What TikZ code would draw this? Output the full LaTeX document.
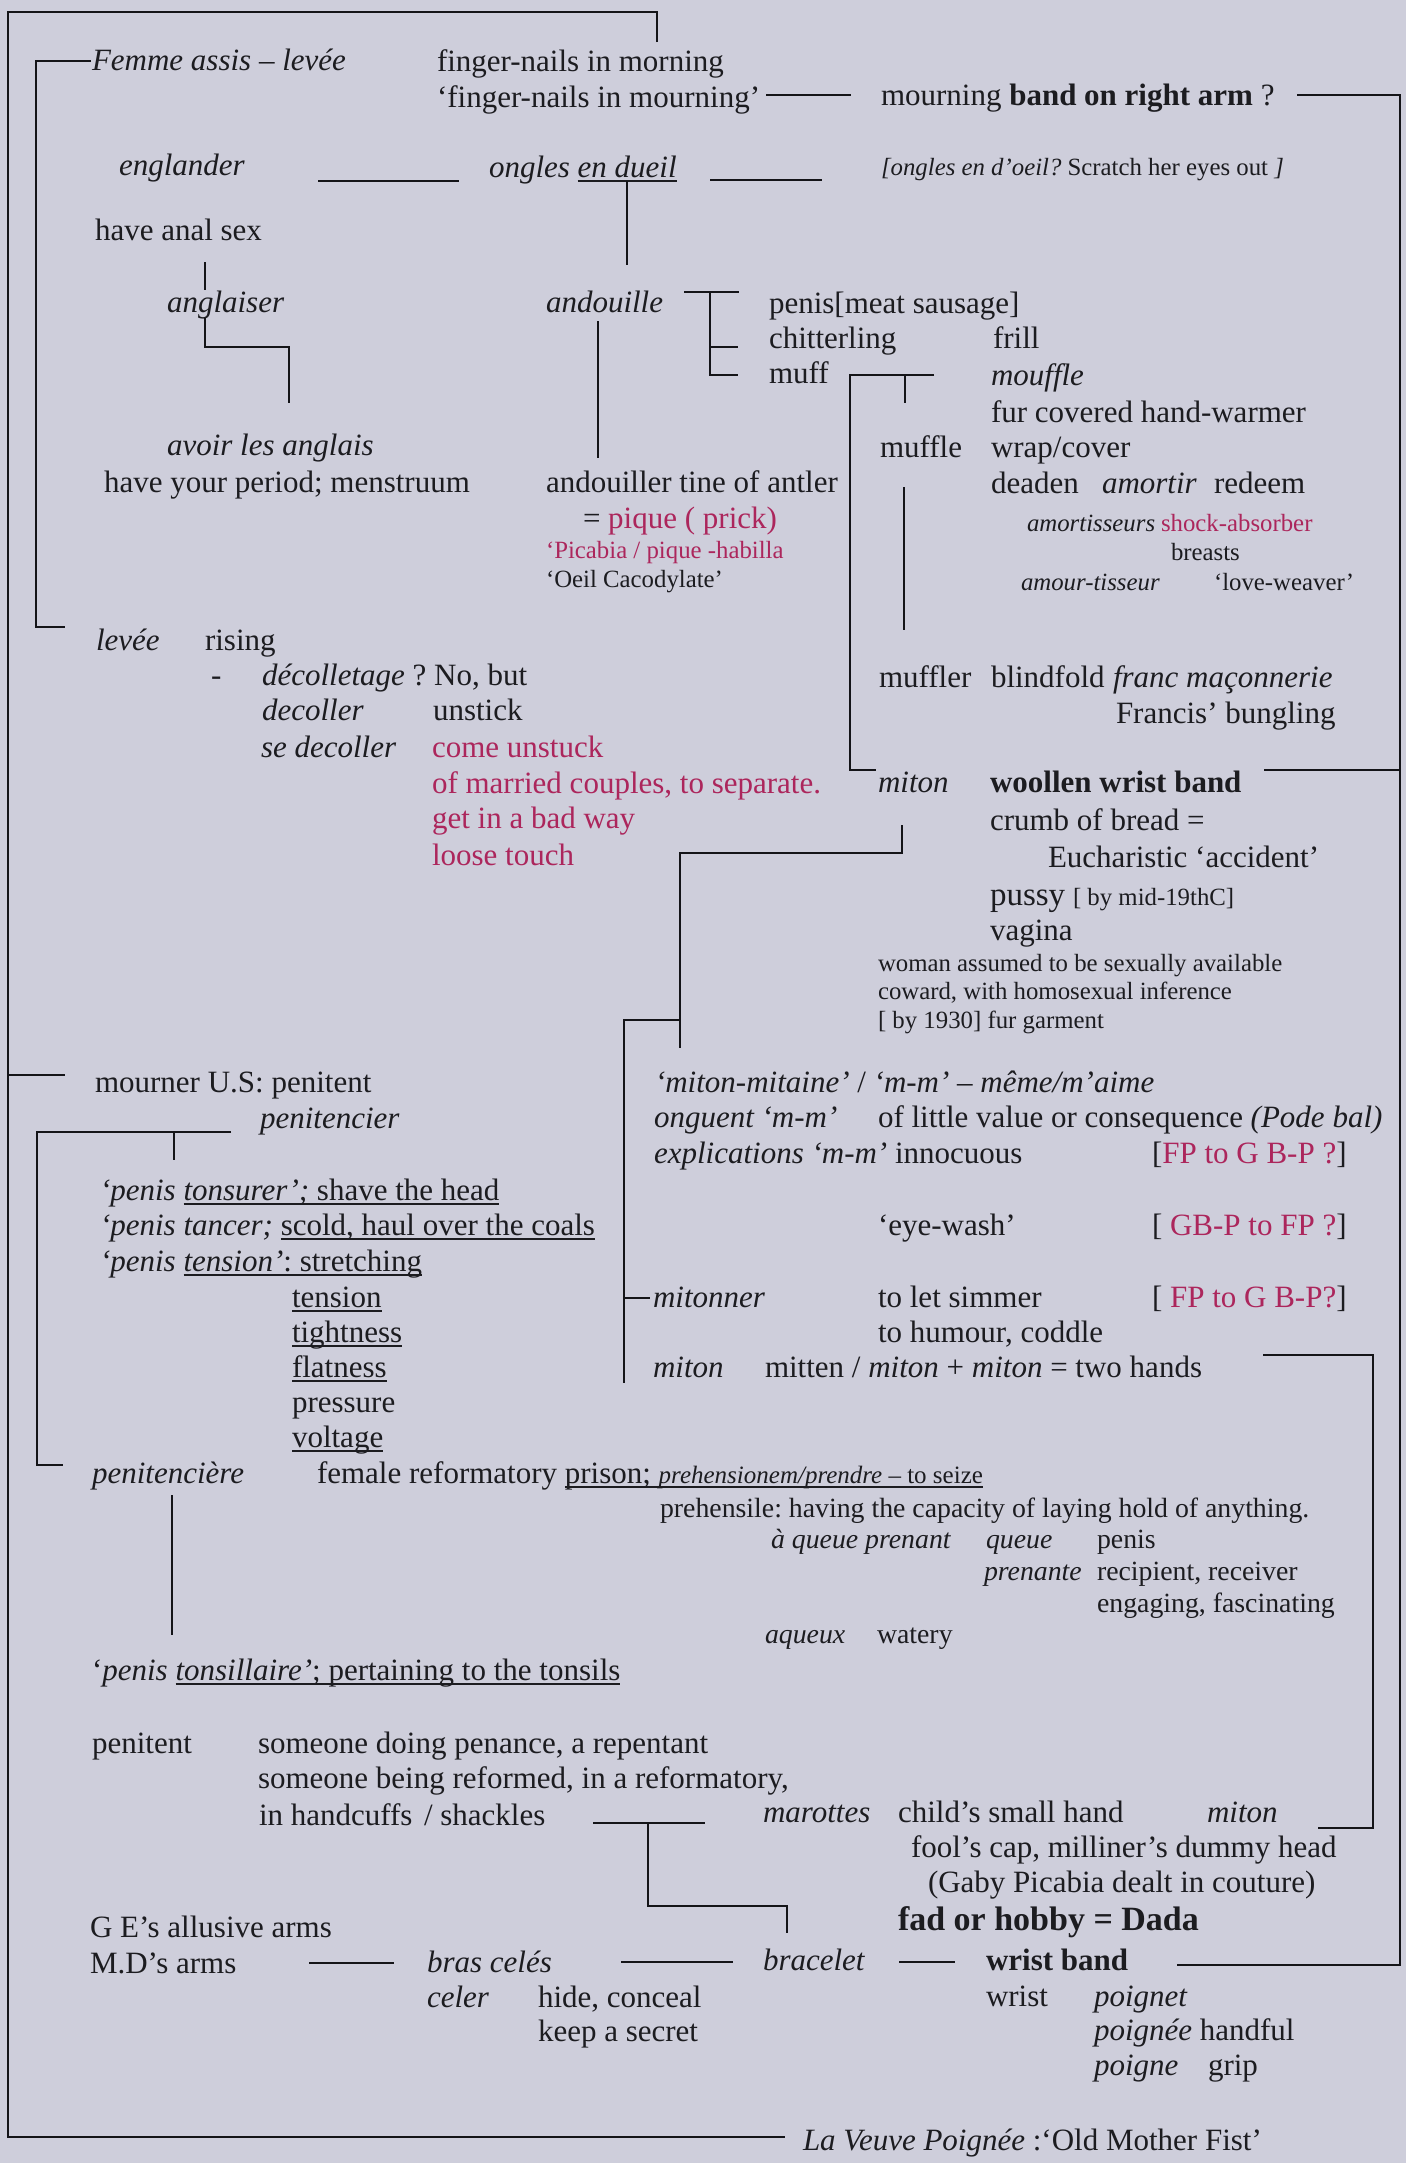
\documentclass[tikz,border=0pt]{standalone}
\usepackage{fontspec}
\setmainfont{Liberation Serif}
\frenchspacing
% underline at a fixed depth below the baseline
\newsavebox{\undlbox}
\newcommand{\undl}[1]{\sbox{\undlbox}{#1}\rlap{\rule[-2.4pt]{\wd\undlbox}{0.7pt}}\usebox{\undlbox}}
\definecolor{paper}{RGB}{206,206,219}
\definecolor{ink}{RGB}{28,28,32}
\definecolor{lineink}{RGB}{20,20,24}
\definecolor{rose}{RGB}{172,38,92}
\tikzset{
  lbl/.style={anchor=base west, inner sep=0pt, outer sep=0pt, text=ink},
  tx/.style={lbl, font=\fontsize{15.5}{18}\selectfont},
  txs/.style={lbl, font=\fontsize{12.4}{14}\selectfont},
  txm/.style={lbl, font=\fontsize{13.9}{16}\selectfont},
  txl/.style={lbl, font=\fontsize{17}{20}\selectfont},
  rosy/.style={text=rose},
  wire/.style={draw=lineink, line width=1.1pt}
}
\begin{document}
\begin{tikzpicture}[x=0.5pt,y=-0.5pt]
\useasboundingbox (0,0) rectangle (1406,2163);
\fill[paper] (0,0) rectangle (1406,2163);

% ---------- text: upper left ----------
\node[tx] (femme) at (92,70) {\textit{Femme assis – levée}};
\node[tx] (fing1) at (437,71) {finger-nails in morning};
\node[tx] (fing2) at (437,107) {‘finger-nails in mourning’};
\node[tx] (mourn) at (881,105) {mourning \textbf{band on right arm} ?};
\node[tx] (englander) at (119,175) {\textit{englander}};
\node[tx] (ongles) at (489,177) {\textit{ongles \undl{en dueil}}};
\node[txs] (scratch) at (881,175) {\textit{[ongles en d’oeil?} Scratch her eyes out \textit{]}};
\node[tx] (anal) at (95,240) {have anal sex};
\node[tx] (anglaiser) at (167,312) {\textit{anglaiser}};
\node[tx] (avoir) at (167,455) {\textit{avoir les anglais}};
\node[tx] (period) at (104,492) {have your period; menstruum};

% ---------- andouille ----------
\node[tx] (andouille) at (546,312) {\textit{andouille}};
\node[tx] (penisA) at (769,313) {penis[meat sausage]};
\node[tx] (chit) at (769,348) {chitterling};
\node[tx] (frill) at (993,348) {frill};
\node[tx] (muff) at (769,383) {muff};
\node[tx] (andouiller) at (546,492) {andouiller tine of antler};
\node[tx] (pique) at (583,528) {= \textcolor{rose}{pique ( prick)}};
\node[txs, rosy] (picabia) at (546,558) {`Picabia / pique -habilla};
\node[txs] (oeil) at (546,587) {‘Oeil Cacodylate’};

% ---------- muff / muffle ----------
\node[tx] (mouffle) at (991,385) {\textit{mouffle}};
\node[tx] (fur) at (991,422) {fur covered hand-warmer};
\node[tx] (muffle) at (880,457) {muffle};
\node[tx] (wrap) at (991,457) {wrap/cover};
\node[tx] (deaden) at (991,493) {deaden};
\node[tx] (amortir) at (1102,493) {\textit{amortir}};
\node[tx] (redeem) at (1214,493) {redeem};
\node[txs] (amortiss) at (1027,531) {\textit{amortisseurs}};
\node[txs, rosy] (shock) at (1161,531) {shock-absorber};
\node[txs] (breasts) at (1171,560) {breasts};
\node[txs] (amourt) at (1021,590) {\textit{amour-tisseur}};
\node[txs] (lovew) at (1214,590) {‘love-weaver’};
\node[tx] (muffler) at (879,687) {muffler};
\node[tx] (blind) at (991,687) {blindfold};
\node[tx] (franc) at (1113,687) {\textit{franc maçonnerie}};
\node[tx] (francis) at (1116,723) {Francis’ bungling};

% ---------- levée ----------
\node[tx] (levee) at (96,650) {\textit{levée}};
\node[tx] (rising) at (205,650) {rising};
\node[tx] (dash) at (211,685) {-};
\node[tx] (decollt) at (262,685) {\textit{décolletage} ? No, but};
\node[tx] (decoller) at (262,720) {\textit{decoller}};
\node[tx] (unstick) at (433,720) {unstick};
\node[tx] (sedec) at (261,757) {\textit{se decoller}};
\node[tx, rosy] (comeun) at (432,757) {come unstuck};
\node[tx, rosy] (married) at (432,793) {of married couples, to separate.};
\node[tx, rosy] (badway) at (432,828) {get in a bad way};
\node[tx, rosy] (loose) at (432,865) {loose touch};

% ---------- miton ----------
\node[tx] (mitonA) at (878,792) {\textit{miton}};
\node[tx] (woollen) at (990,792) {\textbf{woollen wrist band}};
\node[tx] (crumb) at (990,830) {crumb of bread =};
\node[tx] (euch) at (1048,867) {Eucharistic ‘accident’};
\node[lbl, font=\fontsize{16.5}{19}\selectfont] (pussy) at (990,905) {pussy};
\node[txs] (midc) at (1073,905) {[ by mid-19thC]};
\node[tx] (vagina) at (990,940) {vagina};
\node[txs] (woman) at (878,971) {woman assumed to be sexually available};
\node[txs] (coward) at (878,999) {coward, with homosexual inference};
\node[txs] (byyear) at (878,1028) {[ by 1930] fur garment};

% ---------- mourner / penitencier ----------
\node[tx] (mourner) at (95,1092) {mourner U.S: penitent};
\node[tx] (penitencier) at (260,1128) {\textit{penitencier}};
\node[tx] (tonsurer) at (100,1200) {\textit{‘penis \undl{tonsurer’;}}\undl{ shave the head}};
\node[tx] (tancer) at (100,1235) {\textit{‘penis tancer;} \undl{scold, haul over the coals}};
\node[tx] (tensA) at (100,1271) {\textit{‘penis \undl{tension’}}\undl{: stretching}};
\node[tx] (tensB) at (292,1307) {\undl{tension}};
\node[tx] (tight) at (292,1342) {\undl{tightness}};
\node[tx] (flat) at (292,1377) {\undl{flatness}};
\node[tx] (pressure) at (292,1412) {pressure};
\node[tx] (voltage) at (292,1447) {\undl{voltage}};
\node[tx] (peniere) at (92,1483) {\textit{penitencière}};
\node[tx] (female) at (317,1483) {female reformatory \undl{prison;\ {\fontsize{12.5}{14}\selectfont\textit{prehensionem/prendre} – to seize}}};

% ---------- miton-mitaine ----------
\node[tx] (mitaine) at (655,1092) {\textit{‘miton-mitaine’} / \textit{‘m-m’ – même/m’aime}};
\node[tx] (onguent) at (654,1127) {\textit{onguent ‘m-m’}};
\node[tx] (little) at (878,1127) {of little value or consequence \textit{(Pode bal)}};
\node[tx] (explic) at (654,1163) {\textit{explications ‘m-m’} innocuous};
\node[tx] (fpA) at (1152,1163) {[\textcolor{rose}{FP to G B-P ?}]};
\node[tx] (eyewash) at (878,1235) {‘eye-wash’};
\node[tx] (gbp) at (1152,1235) {[ \textcolor{rose}{GB-P to FP ?}]};
\node[tx] (mitonner) at (653,1307) {\textit{mitonner}};
\node[tx] (simmer) at (878,1307) {to let simmer};
\node[tx] (fpB) at (1152,1307) {[ \textcolor{rose}{FP to G B-P?}]};
\node[tx] (humour) at (878,1342) {to humour, coddle};
\node[tx] (mitonB) at (653,1377) {\textit{miton}};
\node[tx] (mitten) at (765,1377) {mitten / \textit{miton} + \textit{miton} = two hands};

% ---------- prehensile ----------
\node[txm] (prehensile) at (660,1517) {prehensile: having the capacity of laying hold of anything.};
\node[txm] (aqueue) at (771,1548) {\textit{à queue prenant}};
\node[txm] (queue) at (986,1548) {\textit{queue}};
\node[txm] (penisB) at (1097,1548) {penis};
\node[txm] (prenante) at (984,1580) {\textit{prenante}};
\node[txm] (recip) at (1097,1580) {recipient, receiver};
\node[txm] (engaging) at (1097,1612) {engaging, fascinating};
\node[txm] (aqueux) at (765,1643) {\textit{aqueux}};
\node[txm] (watery) at (877,1643) {watery};

% ---------- penitent ----------
\node[tx] (tonsil) at (92,1680) {‘\textit{penis \undl{tonsillaire’}}\undl{; pertaining to the tonsils}};
\node[tx] (penitent) at (92,1753) {penitent};
\node[tx] (doing) at (258,1753) {someone doing penance, a repentant};
\node[tx] (being) at (258,1788) {someone being reformed, in a reformatory,};
\node[tx] (handcuffs) at (259,1825) {in handcuffs};
\node[tx] (shackles) at (424,1825) {/ shackles};

% ---------- marottes / bracelet ----------
\node[tx] (marottes) at (763,1822) {\textit{marottes}};
\node[tx] (childs) at (898,1822) {child’s small hand};
\node[tx] (mitonC) at (1207,1822) {\textit{miton}};
\node[tx] (foolscap) at (911,1857) {fool’s cap, milliner’s dummy head};
\node[tx] (gaby) at (928,1892) {(Gaby Picabia dealt in couture)};
\node[txl] (fad) at (898,1930) {\textbf{fad or hobby = Dada}};
\node[tx] (ge) at (90,1937) {G E’s allusive arms};
\node[tx] (md) at (90,1973) {M.D’s arms};
\node[tx] (bras) at (427,1972) {\textit{bras celés}};
\node[tx] (bracelet) at (763,1970) {\textit{bracelet}};
\node[tx] (wristband) at (986,1970) {\textbf{wrist band}};
\node[tx] (celer) at (427,2007) {\textit{celer}};
\node[tx] (hide) at (538,2007) {hide, conceal};
\node[tx] (keep) at (538,2041) {keep a secret};
\node[tx] (wrist) at (986,2006) {wrist};
\node[tx] (poignet) at (1094,2006) {\textit{poignet}};
\node[tx] (poignee) at (1094,2040) {\textit{poignée} handful};
\node[tx] (poigne) at (1094,2075) {\textit{poigne}};
\node[tx] (grip) at (1208,2075) {grip};
\node[tx] (veuve) at (803,2150) {\textit{La Veuve Poignée} :‘Old Mother Fist’};

% ---------- connector corners and ends ----------
\coordinate (fT) at (657,42);   \coordinate (fTR) at (657,12);
\coordinate (fTL) at (8,12);    \coordinate (fBL) at (8,2137);
\coordinate (fB) at (785,2137);
\coordinate (fmA) at (91,61);   \coordinate (fmB) at (36,61);
\coordinate (fmC) at (36,627);  \coordinate (fmD) at (65,627);
\coordinate (mrA) at (8,1075);  \coordinate (mrB) at (65,1075);
\coordinate (fnA) at (766,95);  \coordinate (fnB) at (851,95);
\coordinate (rtA) at (1297,95); \coordinate (rtB) at (1400,95);
\coordinate (rtC) at (1400,1965); \coordinate (rtD) at (1177,1965);
\coordinate (enA) at (318,181); \coordinate (enB) at (459,181);
\coordinate (onA) at (710,180); \coordinate (onB) at (822,180);
\coordinate (duA) at (627,181); \coordinate (duB) at (627,265);
\coordinate (agA) at (205,262); \coordinate (agB) at (205,290);
\coordinate (agC) at (205,318); \coordinate (agD) at (205,347);
\coordinate (agE) at (289,347); \coordinate (agF) at (289,403);
\coordinate (adA) at (598,321); \coordinate (adB) at (598,458);
\coordinate (abA) at (684,292); \coordinate (abB) at (739,292);
\coordinate (abC) at (710,292); \coordinate (abD) at (710,375);
\coordinate (abE) at (738,375); \coordinate (abF) at (710,347);
\coordinate (abG) at (738,347);
\coordinate (mfA) at (934,375); \coordinate (mfB) at (850,375);
\coordinate (mfC) at (850,770); \coordinate (mfD) at (876,770);
\coordinate (mfE) at (905,375); \coordinate (mfF) at (905,403);
\coordinate (mlA) at (904,487); \coordinate (mlB) at (904,630);
\coordinate (wlA) at (1264,770); \coordinate (wlB) at (1400,770);
\coordinate (miA) at (902,825); \coordinate (miB) at (902,853);
\coordinate (miC) at (680,853); \coordinate (miD) at (680,1048);
\coordinate (miE) at (680,1020); \coordinate (miF) at (624,1020);
\coordinate (miG) at (624,1383); \coordinate (miH) at (624,1298);
\coordinate (miI) at (650,1298);
\coordinate (pcA) at (231,1132); \coordinate (pcB) at (37,1132);
\coordinate (pcC) at (37,1465); \coordinate (pcD) at (63,1465);
\coordinate (pcE) at (174,1132); \coordinate (pcF) at (174,1160);
\coordinate (peA) at (172,1495); \coordinate (peB) at (172,1635);
\coordinate (mhA) at (1263,1355); \coordinate (mhB) at (1373,1355);
\coordinate (mhC) at (1373,1828); \coordinate (mhD) at (1318,1828);
\coordinate (hcA) at (593,1823); \coordinate (hcB) at (705,1823);
\coordinate (hcC) at (648,1823); \coordinate (hcD) at (648,1906);
\coordinate (hcE) at (787,1906); \coordinate (hcF) at (787,1933);
\coordinate (mdA) at (309,1963); \coordinate (mdB) at (394,1963);
\coordinate (bcA) at (621,1962); \coordinate (bcB) at (733,1962);
\coordinate (blA) at (899,1962); \coordinate (blB) at (955,1962);

% ---------- connectors ----------
\draw[wire] (fT) -- (fTR) -- (fTL) -- (fBL) -- (fB);
\draw[wire] (fmA) -- (fmB) -- (fmC) -- (fmD);
\draw[wire] (mrA) -- (mrB);
\draw[wire] (fnA) -- (fnB);
\draw[wire] (rtA) -- (rtB) -- (rtC) -- (rtD);
\draw[wire] (enA) -- (enB);
\draw[wire] (onA) -- (onB);
\draw[wire] (duA) -- (duB);
\draw[wire] (agA) -- (agB);
\draw[wire] (agC) -- (agD) -- (agE) -- (agF);
\draw[wire] (adA) -- (adB);
\draw[wire] (abA) -- (abB);
\draw[wire] (abC) -- (abD) -- (abE);
\draw[wire] (abF) -- (abG);
\draw[wire] (mfA) -- (mfB) -- (mfC) -- (mfD);
\draw[wire] (mfE) -- (mfF);
\draw[wire] (mlA) -- (mlB);
\draw[wire] (wlA) -- (wlB);
\draw[wire] (miA) -- (miB) -- (miC) -- (miD);
\draw[wire] (miE) -- (miF) -- (miG);
\draw[wire] (miH) -- (miI);
\draw[wire] (pcA) -- (pcB) -- (pcC) -- (pcD);
\draw[wire] (pcE) -- (pcF);
\draw[wire] (peA) -- (peB);
\draw[wire] (mhA) -- (mhB) -- (mhC) -- (mhD);
\draw[wire] (hcA) -- (hcB);
\draw[wire] (hcC) -- (hcD) -- (hcE) -- (hcF);
\draw[wire] (mdA) -- (mdB);
\draw[wire] (bcA) -- (bcB);
\draw[wire] (blA) -- (blB);
\end{tikzpicture}
\end{document}
